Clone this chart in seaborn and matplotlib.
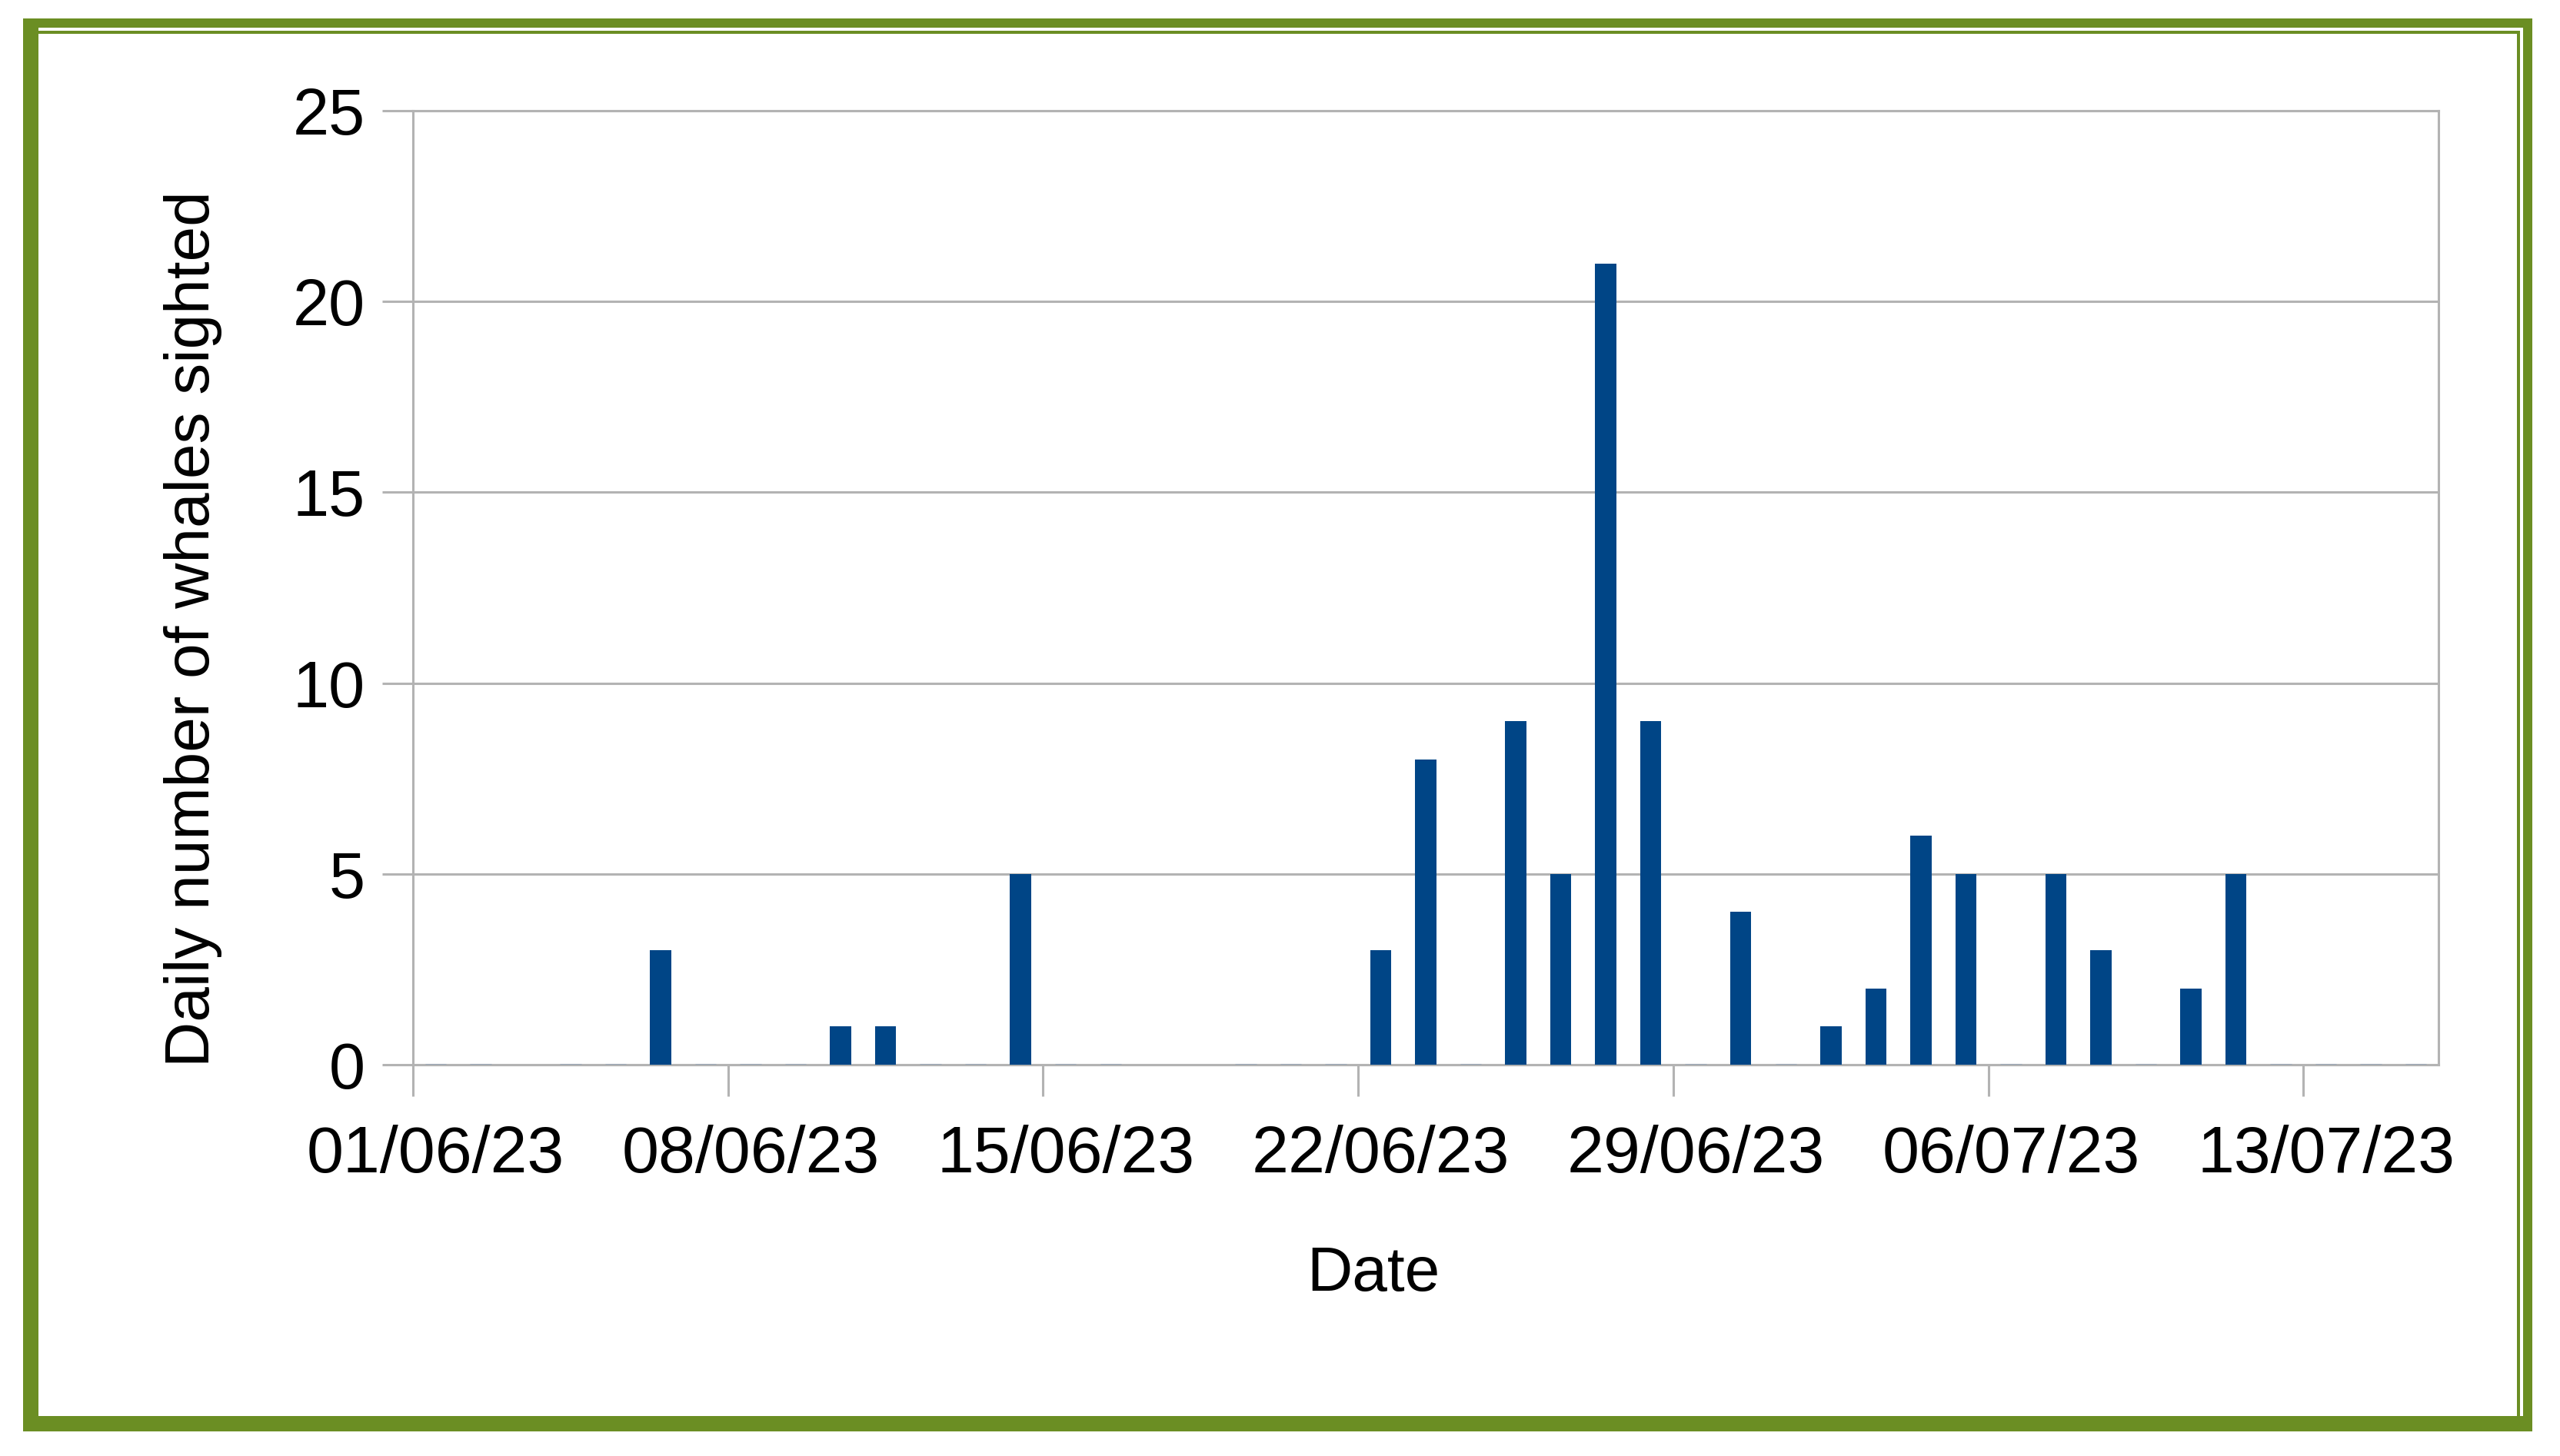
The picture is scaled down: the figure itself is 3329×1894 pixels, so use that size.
"""
Daily whale sightings, 01/06/23 - 15/07/23 (bar chart in a green frame).
"""

import numpy as np
import pandas as pd
import matplotlib
matplotlib.use("Agg")
import matplotlib.pyplot as plt
from matplotlib.patches import Rectangle
import seaborn as sns

# ------------------------------------------------------------------ #
#  Data                                                               #
# ------------------------------------------------------------------ #
dates = pd.date_range("2023-06-01", "2023-07-15", freq="D")
date_labels = [d.strftime("%d/%m/%y") for d in dates]

# None = no survey that day (no mark), 0 = survey with no whales
whales = [
    0, 0, None, 0, 0, 3, 0,      # 01/06 - 07/06
    0, 0, 1, 1, 0, 0, 5,         # 08/06 - 14/06
    0, 0, None, None, 0, 0, 0,   # 15/06 - 21/06
    3, 8, 0, 9, 5, 21, 9,        # 22/06 - 28/06
    0, 4, 0, 1, 2, 6, 5,         # 29/06 - 05/07
    0, 5, 3, 0, 2, 5, 0,         # 06/07 - 12/07
    0, 0, 0,                     # 13/07 - 15/07
]
week_ticks = ["01/06/23", "08/06/23", "15/06/23", "22/06/23",
              "29/06/23", "06/07/23", "13/07/23"]
y_ticks = [0, 5, 10, 15, 20, 25]

df = pd.DataFrame({"Date": date_labels, "Whales": whales}).dropna()

BAR_COLOR = "#004586"
ZERO_COLOR = "#97a4b3"
GRID_COLOR = "#b3b3b3"
GREEN = "#6b8e23"

W, H = 3330, 1894

# ------------------------------------------------------------------ #
#  Figure                                                             #
# ------------------------------------------------------------------ #
sns.set_theme(style="white")
plt.rcParams["font.family"] = ["Liberation Sans", "DejaVu Sans"]

fig = plt.figure(figsize=(W / 100, H / 100), dpi=100)
fig.patch.set_facecolor("white")


def frame_rect(x0, y0, x1, y1, color):
    # pixel box (y from top) -> figure fraction
    fig.add_artist(Rectangle((x0 / W, 1 - y1 / H), (x1 - x0) / W, (y1 - y0) / H,
                             transform=fig.transFigure, facecolor=color,
                             edgecolor="none", zorder=-10))


# double green border, solid on left and bottom
frame_rect(30, 24, 3293, 1862, GREEN)
frame_rect(50, 36, 3281, 1842, "white")
frame_rect(50, 40, 3277, 1842, GREEN)
frame_rect(50, 44, 3273, 1842, "white")

ax = fig.add_axes([537 / W, 1 - 1385 / H, (3171 - 537) / W, (1385 - 144) / H])
ax.set_facecolor("none")

sns.barplot(data=df, x="Date", y="Whales", order=date_labels,
            color=BAR_COLOR, saturation=1, width=0.47,
            linewidth=0, errorbar=None, ax=ax)

for p in ax.patches:
    p.set_zorder(3)
    if p.get_height() == 0:
        p.set_edgecolor(ZERO_COLOR)
        p.set_linewidth(2.2)

# axes, grid
ax.set_ylim(0, 25)
ax.set_xlim(-0.5, len(date_labels) - 0.5)
ax.set_yticks(y_ticks)
ax.set_yticklabels([str(v) for v in y_ticks])
ax.yaxis.grid(True, color=GRID_COLOR, linewidth=2.2)
ax.set_axisbelow(True)
for s in ax.spines.values():
    s.set_visible(True)
    s.set_color(GRID_COLOR)
    s.set_linewidth(2.2)

label_pos = [date_labels.index(t) for t in week_ticks]
ax.set_xticks([i - 0.5 for i in label_pos])
ax.set_xticklabels([])
ax.set_xticks(label_pos, minor=True)
ax.set_xticklabels(week_ticks, minor=True)

ax.tick_params(axis="x", which="major", length=29.5, width=2.2,
               color=GRID_COLOR, bottom=True)
ax.tick_params(axis="x", which="minor", length=0, pad=56,
               labelsize=62, labelcolor="black", bottom=True)
ax.tick_params(axis="y", length=29, width=2.2, color=GRID_COLOR, left=True,
               pad=16, labelsize=61, labelcolor="black")

ax.set_xlabel("Date", fontsize=59, color="black")
ax.set_ylabel("Daily number of whales sighted", fontsize=59, color="black")
ax.xaxis.set_label_coords(0.474, -0.189)
ax.yaxis.set_label_coords(-0.094, 0.457)

plt.savefig("out.png", dpi=100)
plt.close()
print("saved out.png")
